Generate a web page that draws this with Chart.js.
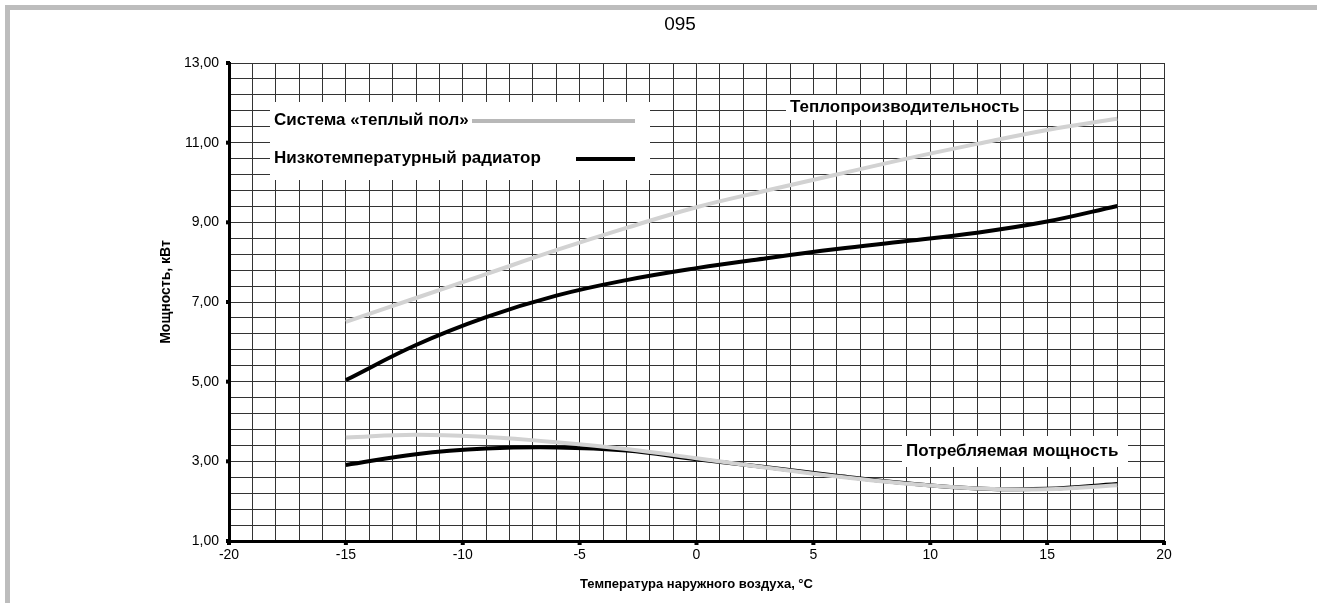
<!DOCTYPE html>
<html lang="ru">
<head>
<meta charset="utf-8">
<title>095</title>
<script src="https://cdn.jsdelivr.net/npm/chart.js@4.4.1/dist/chart.umd.min.js"></script>
<style>
  html, body { margin: 0; padding: 0; background: #fff; }
  #wrap { position: relative; width: 1317px; height: 603px; overflow: hidden; }
  #frame {
    position: absolute; left: 5px; top: 5px; right: 0; bottom: 0;
    border-top: 5px solid #bdbdbd; border-left: 5px solid #bdbdbd;
    pointer-events: none;
  }
  canvas { position: absolute; left: 0; top: 0; }
</style>
</head>
<body>
<div id="wrap">
  <canvas id="chart" width="1317" height="603"></canvas>
  <div id="frame"></div>
</div>
<script>
// =====================
// DATA
// =====================
const temps = [-15, -12, -9, -6, -3, 0, 3, 6, 9, 12, 15, 18];

// heat output, kW
const heatFloor = [6.50, 7.10, 7.70, 8.30, 8.86, 9.38, 9.80, 10.20, 10.60, 10.97, 11.32, 11.60];
const heatRadiator = [5.04, 5.92, 6.62, 7.16, 7.55, 7.85, 8.10, 8.33, 8.53, 8.74, 9.02, 9.41];

// consumed power, kW
const powerFloor = [3.60, 3.67, 3.61, 3.48, 3.31, 3.08, 2.84, 2.62, 2.44, 2.32, 2.30, 2.40];
const powerRadiator = [2.91, 3.18, 3.32, 3.35, 3.27, 3.05, 2.85, 2.64, 2.45, 2.32, 2.31, 2.43];

const xTickLabels = ["-20", "-15", "-10", "-5", "0", "5", "10", "15", "20"];
const yTickLabels = ["1,00", "3,00", "5,00", "7,00", "9,00", "11,00", "13,00"];

const seriesNames = ["Система «теплый пол»", "Низкотемпературный радиатор"];
const pageTitle = "095";
const heatLabel = "Теплопроизводительность";
const powerLabel = "Потребляемая мощность";
const xTitle = "Температура наружного воздуха, °C";
const yTitle = "Мощность, кВт";

// =====================
// STYLE
// =====================
const FONT = '"Liberation Sans", Arial, sans-serif';
const GRAY = "#d2d2d2";
const LEGEND_GRAY = "#b8b8b8";
const BLACK = "#000000";
const GRID = "#333333";

Chart.defaults.font.family = FONT;
Chart.defaults.color = "#000";

const toPoints = (ys) => temps.map((t, i) => ({ x: t, y: ys[i] }));
const yLabelValues = yTickLabels.map(s => parseFloat(s.replace(",", ".")));
const xLabelValues = xTickLabels.map(s => parseFloat(s));

function findLabel(values, labels, v) {
    const i = values.findIndex(k => Math.abs(k - v) < 1e-6);
    return i >= 0 ? labels[i] : "";
}

function lineDataset(label, ys, color) {
    return {
        label: label,
        data: toPoints(ys),
        borderColor: color,
        backgroundColor: color,
        borderWidth: 4,
        pointRadius: 0,
        tension: 0.4,
        fill: false
    };
}

// =====================
// DECORATIONS
// =====================
function textBox(ctx, text, x, y, w, h) {
    ctx.fillStyle = "#fff";
    ctx.fillRect(x, y, w, h);
    ctx.fillStyle = "#000";
    ctx.font = "bold 17px " + FONT;
    ctx.textAlign = "left";
    ctx.textBaseline = "middle";
    ctx.fillText(text, x + 4, y + h / 2);
}

const decorPlugin = {
    id: "decor",
    afterDraw(chart) {
        const ctx = chart.ctx;
        const xs = chart.scales.x;
        const ys = chart.scales.y;
        const area = chart.chartArea;
        ctx.save();

        // page number on top
        ctx.fillStyle = "#000";
        ctx.font = "19px " + FONT;
        ctx.textAlign = "center";
        ctx.textBaseline = "middle";
        ctx.fillText(pageTitle, 680, 25);

        // axis titles
        ctx.font = "bold 13px " + FONT;
        ctx.fillText(xTitle, (area.left + area.right) / 2, 584);
        ctx.save();
        ctx.font = "bold 14px " + FONT;
        ctx.translate(166, 292);
        ctx.rotate(-Math.PI / 2);
        ctx.fillText(yTitle, 0, 0);
        ctx.restore();

        // small square marks at labelled ticks
        yLabelValues.forEach(v => {
            const py = ys.getPixelForValue(v);
            ctx.fillRect(area.left - 3, py - 2, 4, 4);
        });
        xLabelValues.forEach(v => {
            const px = xs.getPixelForValue(v);
            ctx.fillRect(px - 2, area.bottom, 4, 4);
        });

        // legend
        ctx.fillStyle = "#fff";
        ctx.fillRect(270, 102, 380, 78);
        ctx.fillStyle = "#000";
        ctx.font = "bold 17px " + FONT;
        ctx.textAlign = "left";
        ctx.textBaseline = "middle";
        ctx.fillText(seriesNames[0], 274, 120);
        ctx.fillText(seriesNames[1], 274, 158);
        ctx.lineWidth = 4;
        ctx.strokeStyle = LEGEND_GRAY;
        ctx.beginPath();
        ctx.moveTo(472, 121);
        ctx.lineTo(635, 121);
        ctx.stroke();
        ctx.strokeStyle = BLACK;
        ctx.beginPath();
        ctx.moveTo(576, 159);
        ctx.lineTo(635, 159);
        ctx.stroke();

        // curve group labels
        textBox(ctx, heatLabel, 786, 95, 237, 25);
        textBox(ctx, powerLabel, 902, 436, 226, 31);

        ctx.restore();
    }
};

// =====================
// CHART
// =====================
new Chart(document.getElementById("chart"), {
    type: "line",
    data: {
        datasets: [
            lineDataset(seriesNames[0], heatFloor, GRAY),
            lineDataset(seriesNames[0], powerFloor, GRAY),
            lineDataset(seriesNames[1], heatRadiator, BLACK),
            lineDataset(seriesNames[1], powerRadiator, BLACK)
        ]
    },
    options: {
        responsive: false,
        animation: false,
        layout: { padding: { left: 158, right: 153, top: 63, bottom: 10 } },
        plugins: {
            legend: { display: false },
            title: { display: false },
            tooltip: { enabled: false }
        },
        scales: {
            x: {
                type: "linear",
                min: -20,
                max: 20,
                afterFit(scale) { scale.height = 52; },
                grid: { color: GRID, lineWidth: 1, drawTicks: false },
                border: { color: "#000", width: 3 },
                ticks: {
                    stepSize: 1,
                    autoSkip: false,
                    maxRotation: 0,
                    padding: 6,
                    font: { size: 14 },
                    callback: v => findLabel(xLabelValues, xTickLabels, v)
                }
            },
            y: {
                type: "linear",
                min: 1,
                max: 13,
                afterFit(scale) { scale.width = 71; },
                grid: { color: GRID, lineWidth: 1, drawTicks: false },
                border: { color: "#000", width: 3 },
                ticks: {
                    stepSize: 0.4,
                    autoSkip: false,
                    padding: 10,
                    font: { size: 14 },
                    callback: v => findLabel(yLabelValues, yTickLabels, v)
                }
            }
        }
    },
    plugins: [decorPlugin]
});
</script>
</body>
</html>
